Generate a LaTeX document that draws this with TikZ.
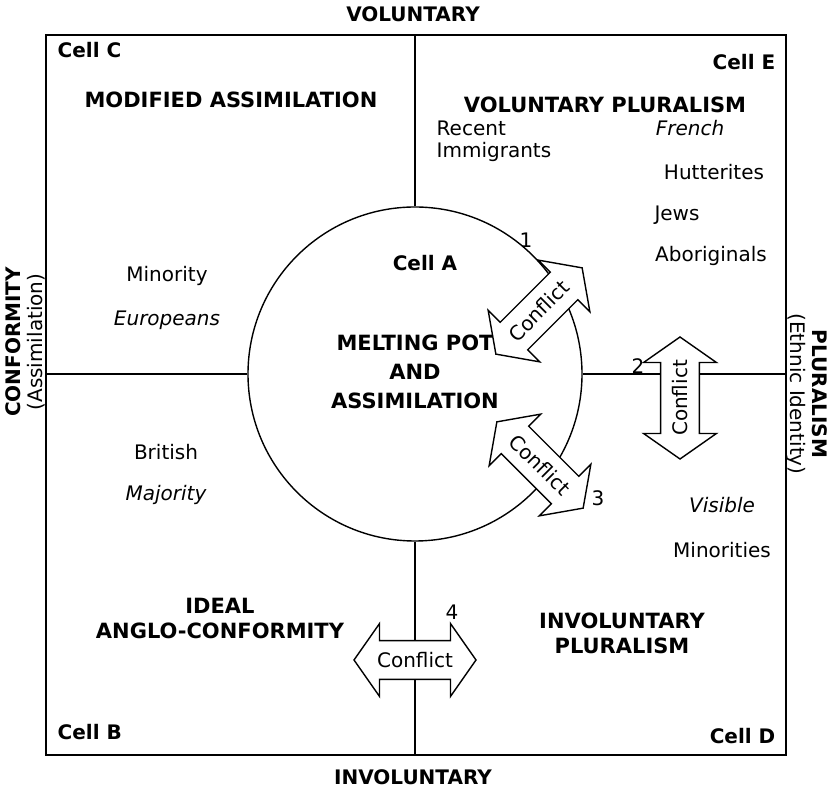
\documentclass[tikz,border=0pt]{standalone}
\usepackage{fontspec}
\setmainfont{DejaVu Sans}
\usetikzlibrary{shapes.arrows}
\tikzset{
  axis/.style={font=\bfseries\fontsize{10}{11}\selectfont, align=center, inner sep=0pt},
  heading/.style={font=\bfseries\fontsize{10.5}{12.5}\selectfont, align=center, inner sep=0pt},
  cell/.style={font=\bfseries\fontsize{10}{12}\selectfont, inner sep=0pt},
  group/.style={font=\fontsize{10}{11}\selectfont, align=left, inner sep=0pt},
  conflict/.style={shape=double arrow, draw, fill=white, font=\fontsize{10}{12}\selectfont,
    inner xsep=1pt, inner ysep=5.5pt, double arrow head extend=8.5pt,
    double arrow tip angle=110, minimum height=61pt},
  num/.style={font=\fontsize{10}{12}\selectfont, inner sep=0pt}
}
\begin{document}
\begin{tikzpicture}[x=0.5pt, y=-0.5pt, line width=0.7pt]
  \useasboundingbox (0,0) rectangle (836,790);
  % frame and the melting pot
  \coordinate (nw) at (46,35);
  \coordinate (se) at (786,755);
  \draw (nw) rectangle (se);
  \node[circle, draw, minimum size=167pt, inner sep=0pt] (pot) at (415,374) {};
  \draw (pot.north) -- (pot.north |- nw);
  \draw (pot.south) -- (pot.south |- se);
  \draw (pot.west) -- (pot.west -| nw);
  \draw (pot.east) -- (pot.east -| se);

  % axes
  \node[axis] (vol) at (413,14) {VOLUNTARY};
  \node[axis] (invol) at (413,777) {INVOLUNTARY};
  \node[axis, rotate=90] (conf) at (25,342) {CONFORMITY\\{\mdseries (Assimilation)}};
  \node[axis, rotate=-90] (plur) at (807,394) {PLURALISM\\{\mdseries (Ethnic Identity)}};

  % cells
  \node[cell, anchor=north west] (cellC) at (57,42) {Cell C};
  \node[cell, anchor=north east] (cellE) at (776,54) {Cell E};
  \node[cell] (cellA) at (425,263) {Cell A};
  \node[cell, anchor=south west] (cellB) at (57,740) {Cell B};
  \node[cell, anchor=south east] (cellD) at (776,744) {Cell D};

  \node[heading] (modified) at (231,100) {MODIFIED ASSIMILATION};
  \node[heading] (volplur) at (605,105) {VOLUNTARY PLURALISM};
  \node[heading] (melting) at (415,372) {MELTING POT\\[2pt]AND\\[2pt]ASSIMILATION};
  \node[heading] (anglo) at (220,618) {IDEAL\\ANGLO-CONFORMITY};
  \node[heading] (involplur) at (622,633) {INVOLUNTARY\\PLURALISM};

  % groups
  \node[group, anchor=west] (recent) at (436,141) {Recent\\Immigrants};
  \node[group] (french) at (690,128) {\itshape French};
  \node[group] (hutt) at (714,172) {Hutterites};
  \node[group] (jews) at (677,215) {Jews};
  \node[group] (abor) at (711,256) {Aboriginals};
  \node[group] (minority) at (167,276) {Minority};
  \node[group] (europ) at (167,320) {\itshape Europeans};
  \node[group] (british) at (166,452) {British};
  \node[group] (major) at (166,495) {\itshape Majority};
  \node[group] (visible) at (722,505) {\itshape Visible};
  \node[group] (minorities) at (722,550) {Minorities};

  % conflict arrows
  \node[conflict, rotate=45] (c1) at (539,311) {Conflict};
  \node[conflict, rotate=90] (c2) at (680,398) {Conflict};
  \node[conflict, rotate=-45] (c3) at (540,465) {Conflict};
  \node[conflict] (c4) at (415,660) {Conflict};
  \node[num] (n1) at (526,240) {1};
  \node[num] (n2) at (638,366) {2};
  \node[num] (n3) at (598,498) {3};
  \node[num] (n4) at (452,612) {4};
\end{tikzpicture}
\end{document}
